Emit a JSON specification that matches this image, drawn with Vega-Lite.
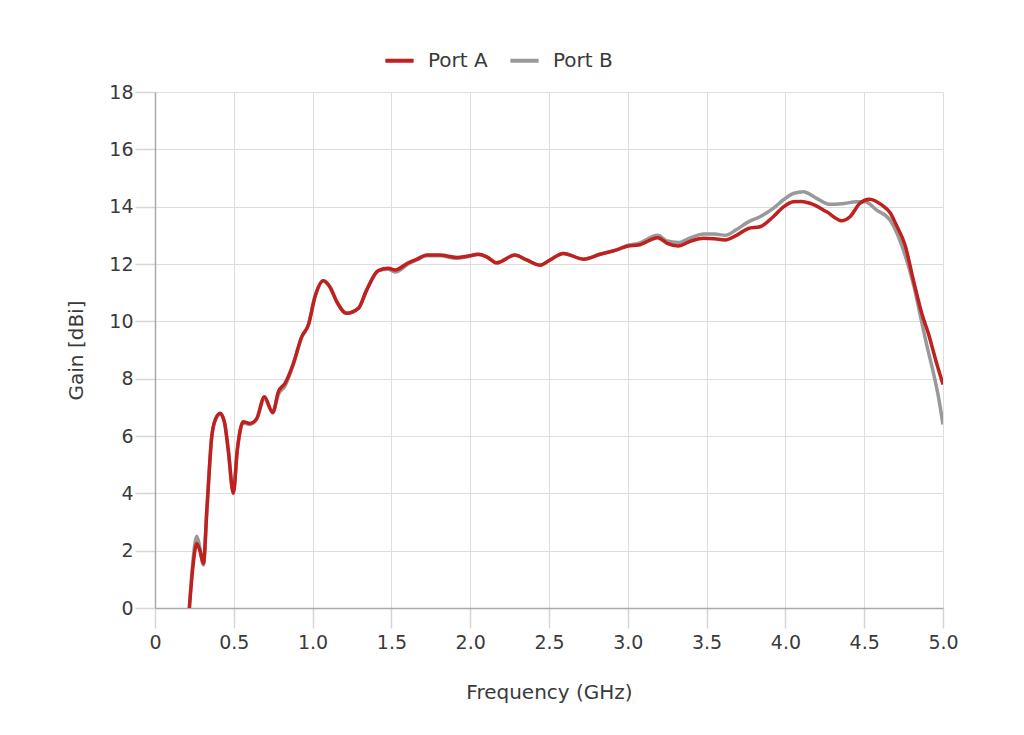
{
  "$schema": "https://vega.github.io/schema/vega-lite/v6.json",
  "width": 788,
  "height": 516,
  "autosize": {"type": "none"},
  "padding": {"left": 155, "top": 92, "right": 81, "bottom": 127},
  "background": "white",
  "config": {
    "font": "DejaVu Sans",
    "view": {"stroke": null},
    "axis": {
      "labelFont": "DejaVu Sans",
      "titleFont": "DejaVu Sans",
      "labelFontSize": 19,
      "titleFontSize": 20,
      "labelColor": "#3a3a3a",
      "titleColor": "#3a3a3a",
      "labelFontWeight": "normal",
      "titleFontWeight": "normal",
      "gridColor": "#dddddd",
      "gridWidth": 1,
      "domainColor": "#aaaaaa",
      "domainWidth": 1.5,
      "tickColor": "#d6d6d6",
      "tickWidth": 1.5,
      "tickSize": 20
    }
  },
  "data": {
    "values": [
      {"freq": 0.218, "gain": 0, "port": "Port A"},
      {"freq": 0.24, "gain": 1.4, "port": "Port A"},
      {"freq": 0.265, "gain": 2.25, "port": "Port A"},
      {"freq": 0.285, "gain": 2.0, "port": "Port A"},
      {"freq": 0.307, "gain": 1.56, "port": "Port A"},
      {"freq": 0.33, "gain": 3.5, "port": "Port A"},
      {"freq": 0.36, "gain": 5.98, "port": "Port A"},
      {"freq": 0.385, "gain": 6.6, "port": "Port A"},
      {"freq": 0.413, "gain": 6.79, "port": "Port A"},
      {"freq": 0.44, "gain": 6.5, "port": "Port A"},
      {"freq": 0.465, "gain": 5.5, "port": "Port A"},
      {"freq": 0.497, "gain": 4.0, "port": "Port A"},
      {"freq": 0.522, "gain": 5.5, "port": "Port A"},
      {"freq": 0.56, "gain": 6.5, "port": "Port A"},
      {"freq": 0.603, "gain": 6.44, "port": "Port A"},
      {"freq": 0.645, "gain": 6.6, "port": "Port A"},
      {"freq": 0.694, "gain": 7.37, "port": "Port A"},
      {"freq": 0.747, "gain": 6.81, "port": "Port A"},
      {"freq": 0.783, "gain": 7.55, "port": "Port A"},
      {"freq": 0.825, "gain": 7.84, "port": "Port A"},
      {"freq": 0.878, "gain": 8.53, "port": "Port A"},
      {"freq": 0.931, "gain": 9.46, "port": "Port A"},
      {"freq": 0.973, "gain": 9.87, "port": "Port A"},
      {"freq": 1.015, "gain": 10.86, "port": "Port A"},
      {"freq": 1.068, "gain": 11.42, "port": "Port A"},
      {"freq": 1.11, "gain": 11.2, "port": "Port A"},
      {"freq": 1.153, "gain": 10.69, "port": "Port A"},
      {"freq": 1.216, "gain": 10.28, "port": "Port A"},
      {"freq": 1.29, "gain": 10.45, "port": "Port A"},
      {"freq": 1.343, "gain": 11.09, "port": "Port A"},
      {"freq": 1.417, "gain": 11.77, "port": "Port A"},
      {"freq": 1.48, "gain": 11.85, "port": "Port A"},
      {"freq": 1.523, "gain": 11.79, "port": "Port A"},
      {"freq": 1.607, "gain": 12.04, "port": "Port A"},
      {"freq": 1.66, "gain": 12.16, "port": "Port A"},
      {"freq": 1.724, "gain": 12.31, "port": "Port A"},
      {"freq": 1.808, "gain": 12.31, "port": "Port A"},
      {"freq": 1.914, "gain": 12.23, "port": "Port A"},
      {"freq": 1.988, "gain": 12.28, "port": "Port A"},
      {"freq": 2.052, "gain": 12.34, "port": "Port A"},
      {"freq": 2.105, "gain": 12.25, "port": "Port A"},
      {"freq": 2.168, "gain": 12.04, "port": "Port A"},
      {"freq": 2.284, "gain": 12.31, "port": "Port A"},
      {"freq": 2.358, "gain": 12.14, "port": "Port A"},
      {"freq": 2.443, "gain": 11.96, "port": "Port A"},
      {"freq": 2.506, "gain": 12.14, "port": "Port A"},
      {"freq": 2.591, "gain": 12.37, "port": "Port A"},
      {"freq": 2.718, "gain": 12.17, "port": "Port A"},
      {"freq": 2.824, "gain": 12.34, "port": "Port A"},
      {"freq": 2.93, "gain": 12.49, "port": "Port A"},
      {"freq": 3.003, "gain": 12.63, "port": "Port A"},
      {"freq": 3.067, "gain": 12.66, "port": "Port A"},
      {"freq": 3.19, "gain": 12.92, "port": "Port A"},
      {"freq": 3.25, "gain": 12.72, "port": "Port A"},
      {"freq": 3.32, "gain": 12.63, "port": "Port A"},
      {"freq": 3.4, "gain": 12.8, "port": "Port A"},
      {"freq": 3.48, "gain": 12.9, "port": "Port A"},
      {"freq": 3.55, "gain": 12.88, "port": "Port A"},
      {"freq": 3.617, "gain": 12.84, "port": "Port A"},
      {"freq": 3.69, "gain": 13.0, "port": "Port A"},
      {"freq": 3.765, "gain": 13.24, "port": "Port A"},
      {"freq": 3.839, "gain": 13.3, "port": "Port A"},
      {"freq": 3.923, "gain": 13.65, "port": "Port A"},
      {"freq": 3.99, "gain": 14.0, "port": "Port A"},
      {"freq": 4.05, "gain": 14.17, "port": "Port A"},
      {"freq": 4.1, "gain": 14.18, "port": "Port A"},
      {"freq": 4.156, "gain": 14.12, "port": "Port A"},
      {"freq": 4.262, "gain": 13.82, "port": "Port A"},
      {"freq": 4.357, "gain": 13.51, "port": "Port A"},
      {"freq": 4.41, "gain": 13.65, "port": "Port A"},
      {"freq": 4.473, "gain": 14.12, "port": "Port A"},
      {"freq": 4.533, "gain": 14.26, "port": "Port A"},
      {"freq": 4.611, "gain": 14.06, "port": "Port A"},
      {"freq": 4.667, "gain": 13.77, "port": "Port A"},
      {"freq": 4.7, "gain": 13.4, "port": "Port A"},
      {"freq": 4.759, "gain": 12.66, "port": "Port A"},
      {"freq": 4.812, "gain": 11.44, "port": "Port A"},
      {"freq": 4.865, "gain": 10.28, "port": "Port A"},
      {"freq": 4.907, "gain": 9.58, "port": "Port A"},
      {"freq": 4.96, "gain": 8.53, "port": "Port A"},
      {"freq": 5.0, "gain": 7.8, "port": "Port A"},

      {"freq": 0.218, "gain": 0, "port": "Port B"},
      {"freq": 0.24, "gain": 1.6, "port": "Port B"},
      {"freq": 0.265, "gain": 2.5, "port": "Port B"},
      {"freq": 0.285, "gain": 2.1, "port": "Port B"},
      {"freq": 0.307, "gain": 1.5, "port": "Port B"},
      {"freq": 0.33, "gain": 3.5, "port": "Port B"},
      {"freq": 0.36, "gain": 5.95, "port": "Port B"},
      {"freq": 0.385, "gain": 6.6, "port": "Port B"},
      {"freq": 0.413, "gain": 6.76, "port": "Port B"},
      {"freq": 0.44, "gain": 6.5, "port": "Port B"},
      {"freq": 0.465, "gain": 5.5, "port": "Port B"},
      {"freq": 0.497, "gain": 4.05, "port": "Port B"},
      {"freq": 0.522, "gain": 5.5, "port": "Port B"},
      {"freq": 0.56, "gain": 6.45, "port": "Port B"},
      {"freq": 0.603, "gain": 6.4, "port": "Port B"},
      {"freq": 0.645, "gain": 6.6, "port": "Port B"},
      {"freq": 0.694, "gain": 7.3, "port": "Port B"},
      {"freq": 0.747, "gain": 6.85, "port": "Port B"},
      {"freq": 0.783, "gain": 7.45, "port": "Port B"},
      {"freq": 0.825, "gain": 7.75, "port": "Port B"},
      {"freq": 0.878, "gain": 8.5, "port": "Port B"},
      {"freq": 0.931, "gain": 9.46, "port": "Port B"},
      {"freq": 0.973, "gain": 9.87, "port": "Port B"},
      {"freq": 1.015, "gain": 10.86, "port": "Port B"},
      {"freq": 1.068, "gain": 11.42, "port": "Port B"},
      {"freq": 1.11, "gain": 11.2, "port": "Port B"},
      {"freq": 1.153, "gain": 10.69, "port": "Port B"},
      {"freq": 1.216, "gain": 10.28, "port": "Port B"},
      {"freq": 1.29, "gain": 10.45, "port": "Port B"},
      {"freq": 1.343, "gain": 11.09, "port": "Port B"},
      {"freq": 1.417, "gain": 11.77, "port": "Port B"},
      {"freq": 1.48, "gain": 11.82, "port": "Port B"},
      {"freq": 1.523, "gain": 11.72, "port": "Port B"},
      {"freq": 1.607, "gain": 12.0, "port": "Port B"},
      {"freq": 1.66, "gain": 12.14, "port": "Port B"},
      {"freq": 1.724, "gain": 12.29, "port": "Port B"},
      {"freq": 1.808, "gain": 12.29, "port": "Port B"},
      {"freq": 1.914, "gain": 12.2, "port": "Port B"},
      {"freq": 1.988, "gain": 12.26, "port": "Port B"},
      {"freq": 2.052, "gain": 12.33, "port": "Port B"},
      {"freq": 2.105, "gain": 12.25, "port": "Port B"},
      {"freq": 2.168, "gain": 12.04, "port": "Port B"},
      {"freq": 2.284, "gain": 12.31, "port": "Port B"},
      {"freq": 2.358, "gain": 12.14, "port": "Port B"},
      {"freq": 2.443, "gain": 11.96, "port": "Port B"},
      {"freq": 2.506, "gain": 12.14, "port": "Port B"},
      {"freq": 2.591, "gain": 12.37, "port": "Port B"},
      {"freq": 2.718, "gain": 12.17, "port": "Port B"},
      {"freq": 2.824, "gain": 12.34, "port": "Port B"},
      {"freq": 2.93, "gain": 12.5, "port": "Port B"},
      {"freq": 3.003, "gain": 12.66, "port": "Port B"},
      {"freq": 3.067, "gain": 12.72, "port": "Port B"},
      {"freq": 3.19, "gain": 13.0, "port": "Port B"},
      {"freq": 3.25, "gain": 12.8, "port": "Port B"},
      {"freq": 3.32, "gain": 12.75, "port": "Port B"},
      {"freq": 3.4, "gain": 12.92, "port": "Port B"},
      {"freq": 3.48, "gain": 13.05, "port": "Port B"},
      {"freq": 3.55, "gain": 13.05, "port": "Port B"},
      {"freq": 3.617, "gain": 13.0, "port": "Port B"},
      {"freq": 3.69, "gain": 13.2, "port": "Port B"},
      {"freq": 3.765, "gain": 13.47, "port": "Port B"},
      {"freq": 3.839, "gain": 13.65, "port": "Port B"},
      {"freq": 3.923, "gain": 13.94, "port": "Port B"},
      {"freq": 3.99, "gain": 14.25, "port": "Port B"},
      {"freq": 4.05, "gain": 14.46, "port": "Port B"},
      {"freq": 4.114, "gain": 14.52, "port": "Port B"},
      {"freq": 4.198, "gain": 14.29, "port": "Port B"},
      {"freq": 4.283, "gain": 14.08, "port": "Port B"},
      {"freq": 4.357, "gain": 14.1, "port": "Port B"},
      {"freq": 4.452, "gain": 14.17, "port": "Port B"},
      {"freq": 4.505, "gain": 14.17, "port": "Port B"},
      {"freq": 4.579, "gain": 13.88, "port": "Port B"},
      {"freq": 4.664, "gain": 13.53, "port": "Port B"},
      {"freq": 4.76, "gain": 12.3, "port": "Port B"},
      {"freq": 4.812, "gain": 11.3, "port": "Port B"},
      {"freq": 4.86, "gain": 10.1, "port": "Port B"},
      {"freq": 4.9, "gain": 9.1, "port": "Port B"},
      {"freq": 4.93, "gain": 8.42, "port": "Port B"},
      {"freq": 4.97, "gain": 7.4, "port": "Port B"},
      {"freq": 5.0, "gain": 6.4, "port": "Port B"}
    ]
  },
  "encoding": {
    "x": {
      "field": "freq",
      "type": "quantitative",
      "scale": {"domain": [0, 5], "nice": false, "zero": true},
      "axis": {
        "title": "Frequency (GHz)",
        "values": [0, 0.5, 1, 1.5, 2, 2.5, 3, 3.5, 4, 4.5, 5],
        "labelExpr": "datum.value === 0 ? '0' : format(datum.value, '.1f')",
        "labelPadding": 5,
        "titlePadding": 30,
        "labelFlush": false
      }
    },
    "y": {
      "field": "gain",
      "type": "quantitative",
      "scale": {"domain": [0, 18], "nice": false},
      "axis": {
        "title": "Gain [dBi]",
        "values": [0, 2, 4, 6, 8, 10, 12, 14, 16, 18],
        "labelPadding": 2,
        "titlePadding": 22,
        "labelFlush": false
      }
    },
    "color": {
      "field": "port",
      "type": "nominal",
      "scale": {"domain": ["Port A", "Port B"], "range": ["#c0201e", "#999999"]},
      "legend": {
        "title": null,
        "orient": "none",
        "direction": "horizontal",
        "legendX": 228,
        "legendY": -48,
        "symbolType": "stroke",
        "symbolStrokeWidth": 4,
        "symbolSize": 800,
        "labelFontSize": 20,
        "labelFontWeight": "normal",
        "labelColor": "#3a3a3a",
        "labelFont": "DejaVu Sans",
        "columnPadding": 14,
        "labelOffset": 12
      }
    }
  },
  "layer": [
    {
      "transform": [{"filter": "datum.port === 'Port B'"}],
      "mark": {"type": "line", "strokeWidth": 3.5, "interpolate": "monotone", "clip": true}
    },
    {
      "transform": [{"filter": "datum.port === 'Port A'"}],
      "mark": {"type": "line", "strokeWidth": 3.5, "interpolate": "monotone", "clip": true}
    }
  ]
}
